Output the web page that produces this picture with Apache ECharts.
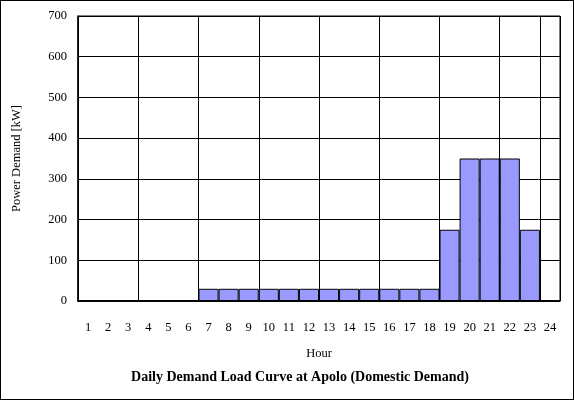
<!DOCTYPE html>
<html>
<head>
<meta charset="utf-8">
<script src="https://cdn.jsdelivr.net/npm/echarts@6/dist/echarts.min.js"></script>
<style>
  html, body { margin: 0; padding: 0; background: #fff; }
  #chart { width: 574px; height: 400px; box-sizing: border-box; border: 1px solid #000; }
</style>
</head>
<body>
<div id="chart"></div>
<script>
// hours of the day
const hours = ['1','2','3','4','5','6','7','8','9','10','11','12','13','14','15','16','17','18','19','20','21','22','23','24']
// power demand per hour [kW]
const demand = [0,0,0,0,0,0,30,30,30,30,30,30,30,30,30,30,30,30,175,350,350,350,175,0]

const chart = echarts.init(document.getElementById('chart'))
const font = 'Liberation Serif, Times New Roman, serif'

const option = {
  animation: false,
  textStyle: { fontFamily: font },
  title: {
    text: 'Daily Demand Load Curve at Apolo (Domestic Demand)',
    left: 294,
    textAlign: 'center',
    top: 364,
    textStyle: { fontFamily: font, fontSize: 14, fontWeight: 'bold', color: '#000' }
  },
  grid: {
    left: 77,
    right: 13,
    top: 15,
    bottom: 98,
    show: true,
    borderColor: '#000',
    borderWidth: 1
  },
  xAxis: {
    type: 'category',
    data: hours,
    name: 'Hour',
    nameLocation: 'middle',
    nameGap: 46,
    nameTextStyle: { fontFamily: font, fontSize: 12.5, color: '#000' },
    axisLine: { lineStyle: { color: '#000', width: 1.5 } },
    axisTick: { interval: 2, length: 5, lineStyle: { color: '#000', width: 1.5 } },
    axisLabel: { interval: 0, margin: 20, fontFamily: font, fontSize: 12.5, color: '#000' },
    splitLine: { show: true, interval: 2, lineStyle: { color: '#000', width: 1 } }
  },
  yAxis: {
    type: 'value',
    min: 0,
    max: 700,
    interval: 100,
    name: 'Power Demand [kW]',
    nameLocation: 'middle',
    nameGap: 55,
    nameTextStyle: { fontFamily: font, fontSize: 12.5, color: '#000' },
    axisLine: { show: true, lineStyle: { color: '#000', width: 1.5 } },
    axisTick: { show: false },
    axisLabel: { margin: 11, fontFamily: font, fontSize: 12.5, color: '#000' },
    splitLine: { lineStyle: { color: '#000', width: 1 } }
  },
  series: [{
    type: 'bar',
    data: demand,
    barWidth: '100%',
    barCategoryGap: '0%',
    itemStyle: { color: '#9999ff', borderColor: '#000', borderWidth: 1 }
  }]
}

chart.setOption(option)
</script>
</body>
</html>
